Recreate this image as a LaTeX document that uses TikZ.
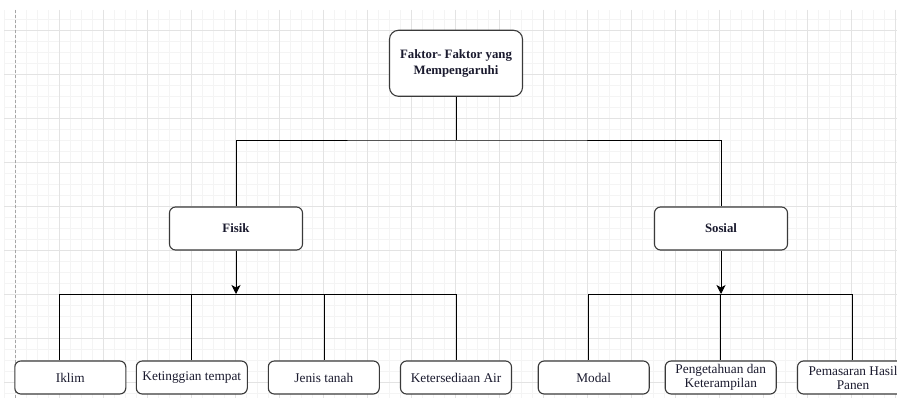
\documentclass[tikz,border=0pt]{standalone}
\usepackage{fontspec}
\setmainfont{Liberation Serif}
\usetikzlibrary{arrows.meta}
\definecolor{gmajor}{HTML}{E3E3E3}
\definecolor{gminor}{HTML}{F4F4F4}
\definecolor{boxline}{HTML}{3A3A3A}
\definecolor{txt}{HTML}{1A1A2E}
\begin{document}
\begin{tikzpicture}[x=1pt,y=-1pt,
  box/.style={draw=boxline,line width=1.1pt,fill=white,rounded corners=6pt,inner sep=0pt,align=center,font=\fontsize{13.3}{14}\selectfont,text=txt},
  topbox/.style={box,minimum width=133pt,minimum height=66pt,rounded corners=9pt,font=\bfseries\fontsize{12.8}{15.5}\selectfont},
  midbox/.style={box,minimum width=133pt,minimum height=43pt,font=\bfseries\fontsize{12.8}{14}\selectfont},
  leafbox/.style={box,minimum width=111pt,minimum height=33pt},
  conn/.style={draw=black,line width=0.9pt},
  arr/.style={conn,-{Stealth[length=9pt,width=9pt,inset=2.5pt]}}]
\useasboundingbox (0,0) rectangle (897,398);
\begin{scope}
\clip (0,0) rectangle (897,398);
% grid
\foreach \x in {4,15,...,897} \draw[gminor,line width=0.6pt] (\x,10) -- (\x,398);
\foreach \y in {19,30,...,398} \draw[gminor,line width=0.6pt] (4,\y) -- (897,\y);
\foreach \x in {59,103,...,897} \draw[gmajor,line width=0.7pt] (\x,10) -- (\x,398);
\foreach \y in {30,74,...,398} \draw[gmajor,line width=0.7pt] (4,\y) -- (897,\y);
\draw[gray!70,line width=0.7pt,dash pattern=on 3pt off 2pt] (15,10) -- (15,398);

% nodes
\node[topbox] (top) at (456,63.3) {Faktor- Faktor yang\\Mempengaruhi};
\node[midbox] (fisik) at (236,228.5) {Fisik};
\node[midbox] (sosial) at (721,228.5) {Sosial};
\node[leafbox] (iklim) at (70.3,377.5) {Iklim};
\node[leafbox] (ting) at (191.8,377.5) {Ketinggian tempat};
\node[leafbox] (jenis) at (323.8,377.5) {Jenis tanah};
\node[leafbox] (air) at (456,377.5) {Ketersediaan Air};
\node[leafbox] (modal) at (593.7,377.5) {Modal};
\node[leafbox] (peng) at (720.7,377.5) {Pengetahuan dan\\Keterampilan};
\node[leafbox] (pem) at (853,377.5) {Pemasaran Hasil\\Panen};

% branch coordinates
\coordinate (tj) at (456,140);
\coordinate (fj) at (236,294);
\coordinate (sj) at (721,294);
\coordinate (b1) at (59.3,294);
\coordinate (b2) at (191.7,294);
\coordinate (b3) at (324,294);
\coordinate (b4) at (456,294);
\coordinate (b5) at (588.7,294);
\coordinate (b6) at (720.7,294);
\coordinate (b7) at (852.7,294);

% connectors
\draw[conn] (top.south) -- (tj);
\draw[conn] (fisik.north) |- (tj) -| (sosial.north);
\draw[arr] (fisik.south) -- (fj);
\draw[arr] (sosial.south) -- (sj);
\draw[conn] (b1) -- (b4);
\draw[conn] (b5) -- (b7);
\draw[conn] (b1) -- (b1 |- iklim.north);
\draw[conn] (b2) -- (b2 |- ting.north);
\draw[conn] (b3) -- (b3 |- jenis.north);
\draw[conn] (b4) -- (b4 |- air.north);
\draw[conn] (b5) -- (b5 |- modal.north);
\draw[conn] (b6) -- (b6 |- peng.north);
\draw[conn] (b7) -- (b7 |- pem.north);
\end{scope}
\end{tikzpicture}
\end{document}
